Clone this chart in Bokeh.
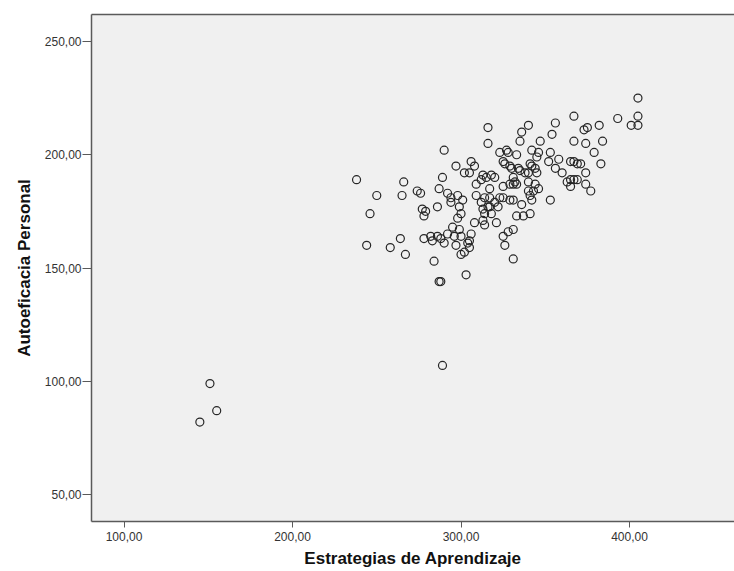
from bokeh.plotting import figure
from bokeh.models import FixedTicker, Range1d, ColumnDataSource, LinearAxis
from bokeh.embed import file_html
from bokeh.resources import INLINE

# Estrategias de Aprendizaje (x) vs Autoeficacia Personal (y)
estrategias = [
    145, 151, 155, 289, 287, 288, 303, 284, 331,
    238, 250, 246, 244, 258, 264, 267, 266, 265, 274, 276, 277, 279, 278, 278,
    282, 283, 286, 288, 290, 286, 287, 289, 290, 297, 306, 308, 302, 305,
    292, 294, 298, 301, 294, 299, 300, 298, 295, 299, 292, 296, 300, 297, 306,
    305, 304, 305, 302, 300, 308, 313, 314, 321, 309, 309, 312, 313, 315, 318,
    320, 317, 312, 316, 320, 322, 317, 313, 318, 314, 314, 317, 323, 316, 316,
    323, 327, 328, 333, 325, 326, 329, 330, 334, 335, 338, 340, 342, 344, 345,
    341, 331, 332, 329, 333, 340, 344, 343, 346, 340, 341, 342, 325, 331, 329,
    331, 336, 325, 333, 337, 341, 331, 328, 325, 326, 340, 336, 335, 342, 346,
    345, 353, 358, 352, 356, 360, 365, 367, 369, 371, 347, 354, 356, 367, 367,
    363, 365, 367, 365, 353, 374, 374, 377, 369, 374, 384, 379, 383, 382, 375,
    373, 393, 401, 405, 405, 405,
]
autoeficacia = [
    82, 99, 87, 107, 144, 144, 147, 153, 154,
    189, 182, 174, 160, 159, 163, 156, 188, 182, 184, 183, 176, 175, 173, 163,
    164, 162, 164, 163, 161, 177, 185, 190, 202, 195, 197, 195, 192, 192,
    183, 181, 182, 180, 179, 177, 174, 172, 168, 167, 165, 164, 164, 160, 165,
    162, 161, 159, 157, 156, 170, 171, 169, 170, 187, 182, 189, 191, 190, 191,
    190, 185, 179, 177, 179, 177, 177, 176, 174, 174, 181, 181, 181, 212, 205,
    201, 202, 201, 200, 197, 196, 195, 194, 194, 193, 192, 192, 195, 194, 192,
    196, 190, 188, 187, 187, 188, 187, 184, 185, 184, 182, 180, 186, 187, 180,
    180, 178, 181, 173, 173, 174, 167, 166, 164, 160, 213, 210, 206, 202, 201,
    199, 201, 198, 197, 194, 192, 197, 197, 196, 196, 206, 209, 214, 217, 206,
    188, 189, 189, 186, 180, 192, 187, 184, 189, 205, 206, 201, 196, 213, 212,
    211, 216, 213, 213, 217, 225,
]

x_ticks = [100, 200, 300, 400]
x_tick_labels = ["100,00", "200,00", "300,00", "400,00"]
y_ticks = [50, 100, 150, 200, 250]
y_tick_labels = ["50,00", "100,00", "150,00", "200,00", "250,00"]

n = min(len(estrategias), len(autoeficacia))
src = ColumnDataSource(data=dict(x=estrategias[:n], y=autoeficacia[:n]))

p = figure(width=734, height=571, output_backend="svg", toolbar_location=None,
           x_range=Range1d(80.7, 462.3), y_range=Range1d(38.1, 261.9),
           min_border_left=91, min_border_right=0, min_border_top=14,
           min_border_bottom=50)
p.background_fill_color = "#f0f0f0"
p.border_fill_color = "white"
p.grid.visible = False
p.outline_line_color = None

p.scatter("x", "y", source=src, marker="circle", size=8, fill_color=None,
          line_color="#262626", line_width=1.2)

xax = p.below[0]
yax = p.left[0]

for ax in (xax, yax):
    ax.axis_line_color = "#5a5a5a"
    ax.axis_line_width = 1.5
    ax.major_tick_line_color = "#5a5a5a"
    ax.major_tick_in = 0
    ax.minor_tick_line_color = None
    ax.major_label_text_font = "Liberation Sans"
    ax.major_label_text_font_size = "12px"
    ax.major_label_text_color = "#333333"
    ax.axis_label_text_font = "Liberation Sans"
    ax.axis_label_text_font_style = "bold"
    ax.axis_label_text_font_size = "17px"
    ax.axis_label_text_color = "#111111"

xax.ticker = FixedTicker(ticks=x_ticks)
xax.major_label_overrides = dict(zip(x_ticks, x_tick_labels))
xax.major_tick_out = 6
xax.major_label_standoff = 4
xax.axis_label = "Estrategias de Aprendizaje"
xax.axis_label_standoff = 5

yax.ticker = FixedTicker(ticks=y_ticks)
yax.major_label_overrides = dict(zip(y_ticks, y_tick_labels))
yax.major_tick_out = 9
yax.major_label_standoff = 1
yax.axis_label = "Autoeficacia Personal"
yax.axis_label_standoff = 8

# top frame line only (no right-hand border, as in the reference)
top = LinearAxis(ticker=FixedTicker(ticks=[]), axis_line_color="#5a5a5a",
                 axis_line_width=1.5, major_tick_line_color=None,
                 minor_tick_line_color=None, major_label_text_font_size="0px",
                 major_tick_out=0, major_tick_in=0, major_label_standoff=0)
p.add_layout(top, "above")

open("out.html", "w").write(file_html(p, INLINE))
